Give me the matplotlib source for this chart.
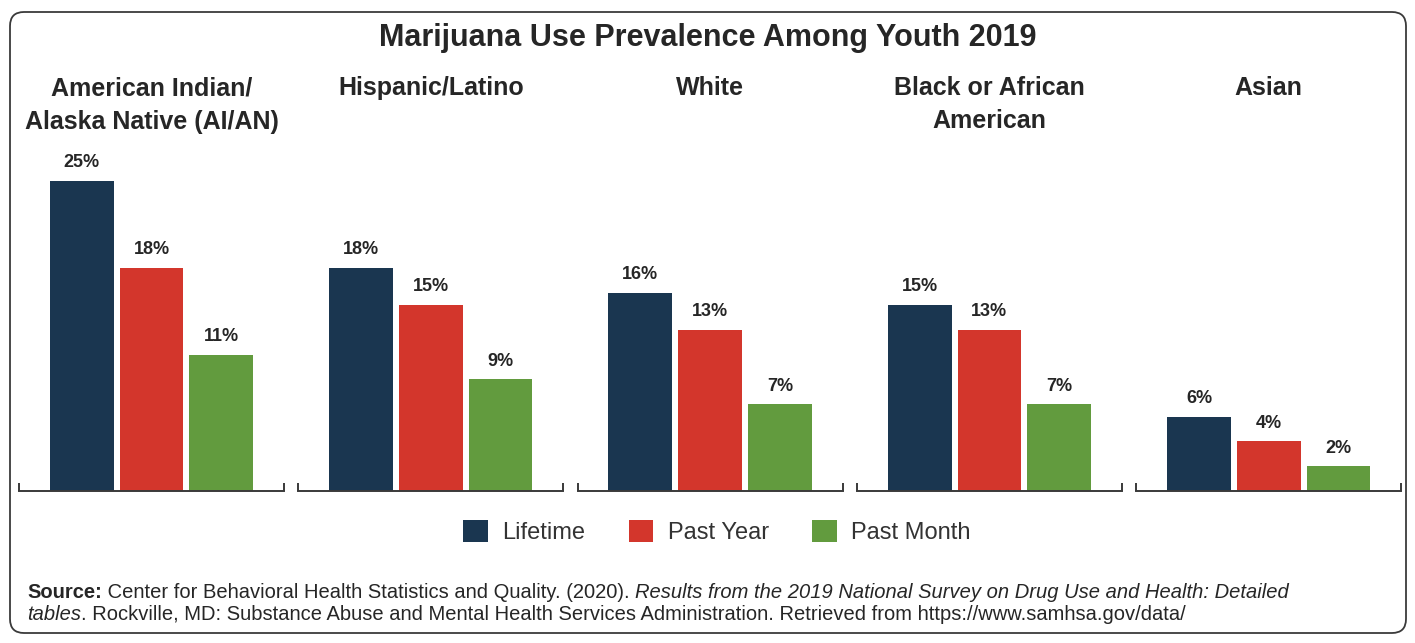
import matplotlib
matplotlib.use("Agg")
import matplotlib.pyplot as plt
from matplotlib.patches import FancyBboxPatch, Patch

plt.rcParams['font.family'] = ['Liberation Sans', 'DejaVu Sans']

groups = ["American Indian/\nAlaska Native (AI/AN)", "Hispanic/Latino", "White",
          "Black or African\nAmerican", "Asian"]
series = ["Lifetime", "Past Year", "Past Month"]
lifetime = [25, 18, 16, 15, 6]
past_year = [18, 15, 13, 13, 4]
past_month = [11, 9, 7, 7, 2]
colors = ["#1a3650", "#d3362c", "#629b3e"]
text_col = "#262626"

W, H = 1415, 643
fig = plt.figure(figsize=(W / 100, H / 100), dpi=100)

# background layer in pixel units for the rounded frame
bg = fig.add_axes([0, 0, 1, 1])
bg.set_xlim(0, W)
bg.set_ylim(H, 0)
bg.axis("off")
bg.add_patch(FancyBboxPatch((10, 12), 1396, 621, boxstyle="round,pad=0,rounding_size=14",
                            facecolor="white", edgecolor="#3a3a3a", linewidth=1.3))


def fx(x):
    return x / W


def fy(y):
    return 1 - y / H


fig.text(fx(708), fy(38), "Marijuana Use Prevalence Among Youth 2019", ha="center", va="center",
         fontsize=22, fontweight="bold", color=text_col)

values = list(zip(lifetime, past_year, past_month))
base_y, top_y = 491, 140
for i, (name, vals) in enumerate(zip(groups, values)):
    left = 19 + i * 279.3
    ax = fig.add_axes([fx(left), fy(base_y), 265 / W, (base_y - top_y) / H])
    ax.patch.set_alpha(0)
    bars = ax.bar(range(3), vals, width=64 / 70, color=colors)
    for b, v in zip(bars, vals):
        ax.annotate(f"{v}%", (b.get_x() + b.get_width() / 2, v), xytext=(0, 13),
                    textcoords="offset points", ha="center", va="center",
                    fontsize=13, fontweight="bold", color=text_col)
    ax.set_xlim(-0.9, 2.9)
    ax.set_ylim(0, (base_y - top_y) / 12.4)
    for s in ["top", "left", "right"]:
        ax.spines[s].set_visible(False)
    ax.spines["bottom"].set_color("#3a3a3a")
    ax.spines["bottom"].set_linewidth(1.4)
    ax.set_xticks([-0.9, 2.9])
    ax.set_xticklabels([])
    ax.tick_params(axis="x", direction="in", length=6, width=1.4, color="#3a3a3a")
    ax.set_yticks([])
    fig.text(fx(left + 132.5), fy(76), name, ha="center", va="top", fontsize=18,
             fontweight="bold", color=text_col, linespacing=1.5)

handles = [Patch(facecolor=c, edgecolor="none") for c in colors]
fig.legend(handles, series, loc="center", bbox_to_anchor=(fx(717), fy(532)), ncol=3,
           frameon=False, fontsize=17, handlelength=1.05, handleheight=1.05,
           handletextpad=0.6, columnspacing=1.85, labelcolor="#333333")

# source note with mixed styles
fig.canvas.draw()
renderer = fig.canvas.get_renderer()


def runs(y, pieces):
    x = 27
    for txt, style in pieces:
        kw = {}
        if style == "b":
            kw["fontweight"] = "bold"
        elif style == "i":
            kw["fontstyle"] = "italic"
        t = fig.text(fx(x), fy(y), txt, ha="left", va="baseline", fontsize=14.5,
                     color=text_col, **kw)
        x += t.get_window_extent(renderer).width


runs(598, [("Source:", "b"),
           (" Center for Behavioral Health Statistics and Quality. (2020). ", ""),
           ("Results from the 2019 National Survey on Drug Use and Health: Detailed", "i")])
runs(620, [("tables", "i"),
           (". Rockville, MD: Substance Abuse and Mental Health Services Administration. "
            "Retrieved from https://www.samhsa.gov/data/", "")])

fig.savefig("out.png", dpi=100)
